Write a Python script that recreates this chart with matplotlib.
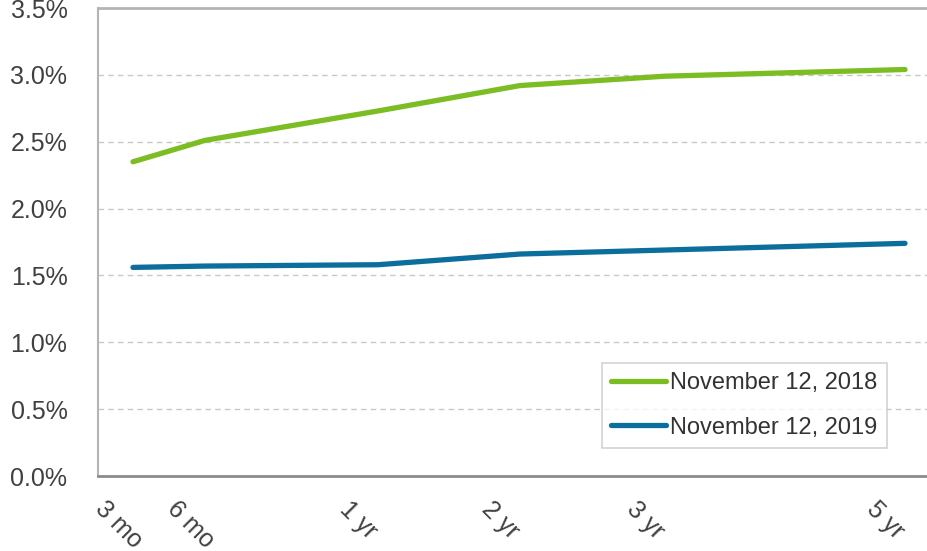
import numpy as np
import matplotlib
matplotlib.use("Agg")
import matplotlib.pyplot as plt
import matplotlib.transforms as mtransforms

plt.rcParams['font.family'] = ['Liberation Sans', 'DejaVu Sans']

tenors = ['3 mo', '6 mo', '1 yr', '2 yr', '3 yr', '5 yr']
tenor_pos = [35, 107, 280, 422, 567, 807]
y2018 = [2.35, 2.51, 2.73, 2.92, 2.99, 3.04]
y2019 = [1.56, 1.57, 1.58, 1.66, 1.69, 1.74]
yticks = [0.0, 0.5, 1.0, 1.5, 2.0, 2.5, 3.0, 3.5]

fig = plt.figure(figsize=(9.28, 5.51), dpi=100)
ax = fig.add_axes([98/928, 75/551, 830/928, 468/551])

ax.plot(tenor_pos, y2018, color='#7BBD22', lw=3.8, solid_capstyle='round',
        label='November 12, 2018')
ax.plot(tenor_pos, y2019, color='#0B6E9C', lw=3.8, solid_capstyle='round',
        label='November 12, 2019')

ax.set_xlim(0, 830)
ax.set_ylim(0, 3.5)
ax.set_yticks(yticks)
ax.set_yticklabels(['{:.1f}%'.format(v) for v in yticks], fontsize=18, color='#404040')
ax.grid(axis='y', color='#c8c8c8', linestyle=(0, (4, 3)), lw=1)
ax.set_axisbelow(True)

# rotated tenor labels, shifted left of their point
ax.set_xticks([])
trans = mtransforms.blended_transform_factory(ax.transData, ax.transAxes)
shift = mtransforms.ScaledTranslation(-26/100, -21/100, fig.dpi_scale_trans)
for pos, lab in zip(tenor_pos, tenors):
    ax.text(pos, 0, lab, transform=trans + shift, rotation=-45, ha='left', va='top',
            rotation_mode='anchor', fontsize=18, color='#404040')
ax.tick_params(axis='y', length=0, pad=22)

ax.spines['right'].set_visible(False)
ax.spines['top'].set_color('#b4b4b4')
ax.spines['top'].set_linewidth(2)
ax.spines['left'].set_color('#b4b4b4')
ax.spines['left'].set_linewidth(1.5)
ax.spines['bottom'].set_color('#8c8c8c')
ax.spines['bottom'].set_linewidth(2)

leg = ax.legend(loc='lower right', bbox_to_anchor=(887/928, 103/551),
                bbox_transform=fig.transFigure, borderaxespad=0, fontsize=17,
                frameon=True, fancybox=False, handlelength=2.3, handletextpad=0.2,
                borderpad=0.4, labelspacing=0.95)
leg.get_frame().set_edgecolor('#c8c8c8')
leg.get_frame().set_linewidth(1.2)
for t in leg.get_texts():
    t.set_color('#333333')

plt.savefig('out.png', dpi=100)
